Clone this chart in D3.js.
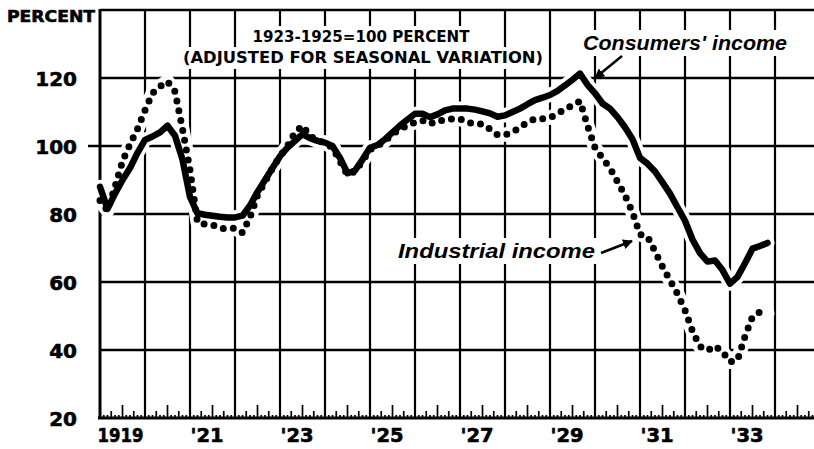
<!DOCTYPE html>
<html><head><meta charset="utf-8">
<script src="https://cdn.jsdelivr.net/npm/d3@7"></script>
<style>body{margin:0;background:#fff} svg{display:block}</style>
</head><body>
<svg id="c" width="814" height="449"></svg>
<script>
// ---- data (bimonthly readings: Jan, Mar, May, Jul, Sep, Nov of each year) ----
const years = [1919,1920,1921,1922,1923,1924,1925,1926,1927,1928,1929,1930,1931,1932,1933];
const monthOffsets = [0, 2, 4, 6, 8, 10];
const consumers = [
  88, 81.5, 86, 90, 93.5, 98,
  101.8, 102.8, 104, 106, 103, 96,
  85, 80.2, 79.8, 79.5, 79.2, 79,
  79, 79.5, 82.5, 86.5, 90, 93.5,
  97, 99.5, 101.5, 103.5, 102.3, 101.5,
  101, 100, 96.5, 92, 92.8, 96,
  99.5, 100.3, 102, 104, 106, 107.8,
  109.5, 109.5, 108.5, 109.3, 110.5, 111,
  111, 111, 110.7, 110.2, 109.6, 108.6,
  109, 110, 111, 112.3, 113.5, 114.2,
  115, 116.2, 117.8, 119.5, 121.3, 118,
  115.5, 112.5, 111, 108.5, 105.5, 102,
  96.5, 94.8, 92.5, 89.3, 86, 82,
  78, 72.5, 68.5, 66, 66.3, 63.5,
  59.5, 61.5, 65.5, 69.8, 70.6, 71.5
];
const industrial = [
  84, 81, 88, 95.5, 100.5, 105,
  110.5, 115.5, 117.5, 119, 116, 105,
  93, 77.5, 77, 76.8, 75.8, 75.7,
  75.8, 74.5, 79, 85.5, 89.5, 93.5,
  97, 100, 104, 106, 103, 101.5,
  101, 99.5, 95.5, 91.5, 92.5, 95.5,
  99, 100, 101.5, 103.5, 105, 106,
  107, 107.5, 106.5, 107.5, 107.5, 108,
  108, 107, 106.5, 106.5, 105, 103.3,
  103.3, 104, 105.5, 107, 108, 108,
  108.3, 109.5, 110.8, 112, 113.2, 106,
  99.5, 96.4, 93.5, 89.5, 85.5, 80.5,
  74, 73.4, 69, 64.5, 60.5, 56.5,
  51.7, 45.5, 41, 39.8, 41.2, 39.5,
  36.5, 37, 44, 49.8, 51.2, 50.8
];
const yTicks = [20, 40, 60, 80, 100, 120];
const xLabelYears = [1919, 1921, 1923, 1925, 1927, 1929, 1931, 1933];
const xLabels = ["1919", "'21", "'23", "'25", "'27", "'29", "'31", "'33"];
const titleLines = ["1923-1925=100 PERCENT", "(ADJUSTED FOR SEASONAL VARIATION)"];
const seriesNames = ["Consumers' income", "Industrial income"];

// ---- build ----
const dates = [];
years.forEach(y => monthOffsets.forEach(m => dates.push(y + m / 12)));
const cData = dates.map((d, i) => ({t: d, v: consumers[i]}));
const iData = dates.map((d, i) => ({t: d, v: industrial[i]}));

const svg = d3.select("#c");
const W = 814;
const x = d3.scaleLinear().domain([1919, 1935]).range([100, 820]);
const y = d3.scaleLinear().domain([20, 140]).range([418, 10]);

const grid = svg.append("g");
[40, 60, 80, 100, 120, 140].forEach(v => {
  grid.append("line").attr("x1", v === 100 ? 88 : x(1919)).attr("x2", W)
    .attr("y1", y(v)).attr("y2", y(v))
    .attr("stroke", "#000").attr("stroke-width", 2.3);
});
d3.range(1920, 1935).forEach(yr => {
  grid.append("line").attr("x1", x(yr)).attr("x2", x(yr))
    .attr("y1", y(140)).attr("y2", y(20))
    .attr("stroke", "#000").attr("stroke-width", 2.2);
});
grid.append("line").attr("x1", x(1919)).attr("x2", x(1919)).attr("y1", y(140) - 1).attr("y2", y(20) + 1)
  .attr("stroke", "#000").attr("stroke-width", 3);
grid.append("line").attr("x1", x(1919) - 2).attr("x2", W).attr("y1", y(20)).attr("y2", y(20))
  .attr("stroke", "#000").attr("stroke-width", 3);
d3.range(1919, 1935).forEach(yr => {
  d3.range(1, 12).forEach(m => {
    const len = m === 6 ? 13 : (m === 3 || m === 9 ? 7 : 3);
    const xx = x(yr + m / 12);
    if (xx > W) return;
    grid.append("line").attr("x1", xx).attr("x2", xx)
      .attr("y1", y(20)).attr("y2", y(20) - len)
      .attr("stroke", "#000").attr("stroke-width", 1.7);
  });
});

// ---- lines ----
const line = d3.line().x(d => x(d.t)).y(d => y(d.v)).curve(d3.curveLinear);
[cData, iData].forEach(data => {
  svg.append("path").datum(data).attr("d", line)
    .attr("fill", "none").attr("stroke", "#fff").attr("stroke-width", 14)
    .attr("stroke-linejoin", "round").attr("stroke-linecap", "round");
});
svg.append("path").datum(iData).attr("d", line)
  .attr("fill", "none").attr("stroke", "#000").attr("stroke-width", 7)
  .attr("stroke-dasharray", "0 10").attr("stroke-linecap", "round");
svg.append("path").datum(cData).attr("d", line)
  .attr("fill", "none").attr("stroke", "#000").attr("stroke-width", 6.5)
  .attr("stroke-linejoin", "round").attr("stroke-linecap", "round");

// ---- axis labels ----
const yAxis = d3.axisLeft(y).tickValues(yTicks).tickSize(0).tickPadding(0);
const ya = svg.append("g").attr("transform", "translate(77,0)").call(yAxis);
ya.select(".domain").remove();
ya.selectAll("text").attr("font-family", "DejaVu Sans").attr("font-weight", "bold")
  .attr("font-size", 20).attr("fill", "#000").attr("dy", "0.36em")
  .attr("stroke", "#000").attr("stroke-width", 0.6);

const xAxis = d3.axisBottom(x).tickValues(xLabelYears).tickSize(0).tickPadding(0)
  .tickFormat((d, i) => xLabels[i]);
const xa = svg.append("g").call(xAxis);
xa.select(".domain").remove();
xa.selectAll("text").attr("font-family", "DejaVu Sans").attr("font-weight", "bold")
  .attr("font-size", 19.5).attr("fill", "#000").attr("text-anchor", "start")
  .attr("stroke", "#000").attr("stroke-width", 0.6)
  .attr("y", 442).attr("dy", 0)
  .each(function(d, i) { if (i === 0) d3.select(this).attr("textLength", 46).attr("lengthAdjust", "spacingAndGlyphs").attr("x", -3); });

svg.append("text").attr("x", 7).attr("y", 22).text("PERCENT")
  .attr("font-family", "DejaVu Sans").attr("font-weight", "bold").attr("font-size", 16)
  .attr("stroke", "#000").attr("stroke-width", 0.6)
  .attr("textLength", 88).attr("lengthAdjust", "spacingAndGlyphs");

// ---- annotations with white backgrounds ----
const ann = svg.append("g");
function boxedText(txt, xx, yy, opts) {
  const t = ann.append("text").attr("x", xx).attr("y", yy).text(txt)
    .attr("font-family", opts.family).attr("font-weight", "bold")
    .attr("font-style", opts.italic ? "italic" : "normal")
    .attr("font-size", opts.size).attr("text-anchor", opts.anchor || "start")
    .attr("textLength", opts.len).attr("lengthAdjust", "spacingAndGlyphs");
  const b = t.node().getBBox();
  ann.insert("rect", "text").attr("x", b.x - opts.pad).attr("y", b.y - opts.pad + 2)
    .attr("width", b.width + 2 * opts.pad).attr("height", b.height + 2 * opts.pad - 4)
    .attr("fill", "#fff");
}
boxedText(titleLines[0], 361, 42, {family: "DejaVu Sans", size: 15, anchor: "middle", len: 217, pad: 4});
boxedText(titleLines[1], 363, 63, {family: "DejaVu Sans", size: 15, anchor: "middle", len: 360, pad: 4});
boxedText(seriesNames[0], 583, 50, {family: "Liberation Sans", italic: true, size: 20, len: 204, pad: 4});
boxedText(seriesNames[1], 398, 258, {family: "Liberation Sans", italic: true, size: 20, len: 197, pad: 4});

// arrows
const defs = svg.append("defs");
defs.append("marker").attr("id", "ah").attr("viewBox", "0 0 10 10").attr("refX", 9).attr("refY", 5)
  .attr("markerWidth", 4).attr("markerHeight", 4).attr("orient", "auto")
  .append("path").attr("d", "M0,0 L10,5 L0,10 z").attr("fill", "#000");
svg.append("line").attr("x1", 622).attr("y1", 56).attr("x2", 595).attr("y2", 78)
  .attr("stroke", "#000").attr("stroke-width", 2.5).attr("marker-end", "url(#ah)");
svg.append("line").attr("x1", 601).attr("y1", 253).attr("x2", 632).attr("y2", 241)
  .attr("stroke", "#000").attr("stroke-width", 2.5).attr("marker-end", "url(#ah)");
</script>
</body></html>
